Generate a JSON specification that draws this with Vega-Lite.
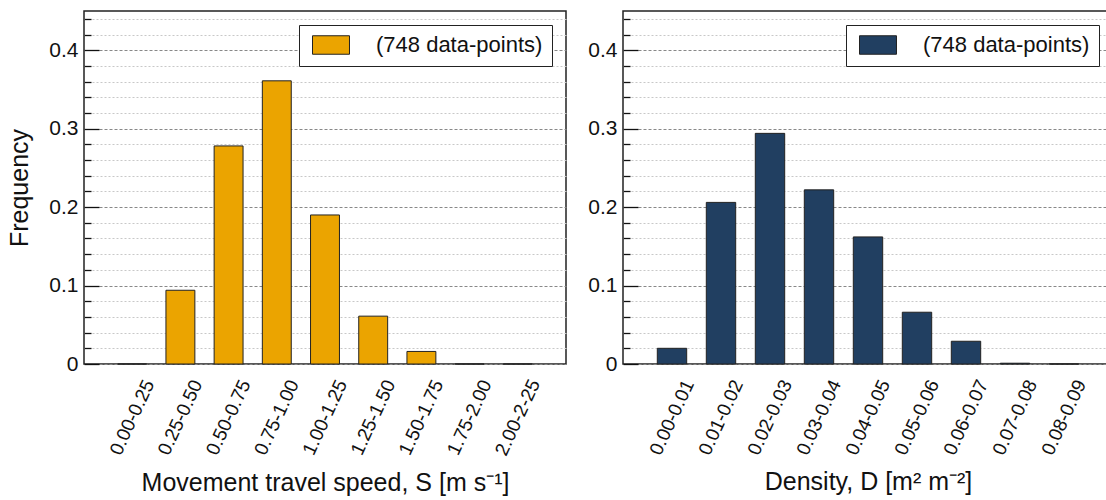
{
  "$schema": "https://vega.github.io/schema/vega-lite/v6.json",
  "padding": {"left": 7, "top": 10, "right": 0, "bottom": 0},
  "spacing": 20,
  "config": {
    "font": "Liberation Sans",
    "view": {"stroke": "#222", "strokeWidth": 1.5},
    "axis": {"labelColor": "#111", "titleColor": "#111", "titleFontWeight": "normal", "labelFont": "Liberation Sans", "titleFont": "Liberation Sans"},
    "legend": {
      "fillColor": "white", "strokeColor": "#222", "padding": 9, "offset": 14,
      "labelFontSize": 22, "labelColor": "#111", "labelFont": "Liberation Sans", "labelLimit": 400,
      "symbolType": "M-2,-1H2V1H-2Z", "symbolSize": 342, "symbolOffset": 12,
      "symbolStrokeColor": "#222", "symbolStrokeWidth": 1, "symbolOpacity": 1, "labelOffset": 34
    }
  },
  "resolve": {"scale": {"color": "independent"}, "legend": {"color": "independent"}},
  "hconcat": [
    {
      "width": 482, "height": 353,
      "data": {"values": [
        {"bin": "0.00-0.25", "freq": 0, "series": "(748 data-points)"},
        {"bin": "0.25-0.50", "freq": 0.094, "series": "(748 data-points)"},
        {"bin": "0.50-0.75", "freq": 0.278, "series": "(748 data-points)"},
        {"bin": "0.75-1.00", "freq": 0.361, "series": "(748 data-points)"},
        {"bin": "1.00-1.25", "freq": 0.190, "series": "(748 data-points)"},
        {"bin": "1.25-1.50", "freq": 0.061, "series": "(748 data-points)"},
        {"bin": "1.50-1.75", "freq": 0.016, "series": "(748 data-points)"},
        {"bin": "1.75-2.00", "freq": 0, "series": "(748 data-points)"},
        {"bin": "2.00-2-25", "freq": 0, "series": "(748 data-points)"}
      ]},
      "resolve": {"axis": {"y": "independent"}},
      "layer": [
        {
          "mark": {"type": "bar", "opacity": 0},
          "encoding": {
            "x": {"field": "bin", "type": "nominal", "sort": null, "scale": {"paddingInner": 0.4, "paddingOuter": 0.7},
                  "axis": {"labelAngle": -65, "labelAlign": "center", "labelBaseline": "middle", "labelPadding": 53, "labelFontSize": 19, "labelOverlap": false, "ticks": false, "domain": false, "grid": false, "title": "Movement travel speed, S [m s⁻¹]", "titleFontSize": 25, "titlePadding": 12}},
            "y": {"field": "freq", "type": "quantitative", "scale": {"domain": [0, 0.45], "nice": false},
                  "axis": {"orient": "left", "offset": -7, "values": [0.02,0.04,0.06,0.08,0.12,0.14,0.16,0.18,0.22,0.24,0.26,0.28,0.32,0.34,0.36,0.38,0.42,0.44], "labels": false, "domain": false, "ticks": true, "tickSize": 7, "tickWidth": 1.3, "tickColor": "#111", "grid": true, "gridColor": "#c8c8c8", "gridDash": [2, 2], "title": null}}
          }
        },
        {
          "mark": {"type": "bar", "stroke": "#222", "strokeWidth": 1},
          "encoding": {
            "x": {"field": "bin", "type": "nominal", "sort": null, "scale": {"paddingInner": 0.4, "paddingOuter": 0.7},
                  "axis": {"labelAngle": -65, "labelAlign": "center", "labelBaseline": "middle", "labelPadding": 53, "labelFontSize": 19, "labelOverlap": false, "ticks": false, "domain": false, "grid": false, "title": "Movement travel speed, S [m s⁻¹]", "titleFontSize": 25, "titlePadding": 12}},
            "y": {"field": "freq", "type": "quantitative", "scale": {"domain": [0, 0.45], "nice": false},
                  "axis": {"orient": "left", "offset": -15, "values": [0, 0.1, 0.2, 0.3, 0.4], "format": ".1~f", "labelFontSize": 21, "labelPadding": 6, "domain": false, "ticks": true, "tickSize": 15, "tickWidth": 1.3, "tickColor": "#111", "grid": true, "gridColor": "#888888", "gridDash": [3, 2], "title": "Frequency", "titleFontSize": 25, "titlePadding": 16}},
            "color": {"field": "series", "type": "nominal", "scale": {"range": ["#EBA400"]}, "legend": {"title": null, "orient": "top-right"}}
          }
        }
      ]
    },
    {
      "width": 490, "height": 353,
      "data": {"values": [
        {"bin": "0.00-0.01", "freq": 0.020, "series": "(748 data-points)"},
        {"bin": "0.01-0.02", "freq": 0.206, "series": "(748 data-points)"},
        {"bin": "0.02-0.03", "freq": 0.294, "series": "(748 data-points)"},
        {"bin": "0.03-0.04", "freq": 0.222, "series": "(748 data-points)"},
        {"bin": "0.04-0.05", "freq": 0.162, "series": "(748 data-points)"},
        {"bin": "0.05-0.06", "freq": 0.066, "series": "(748 data-points)"},
        {"bin": "0.06-0.07", "freq": 0.029, "series": "(748 data-points)"},
        {"bin": "0.07-0.08", "freq": 0.001, "series": "(748 data-points)"},
        {"bin": "0.08-0.09", "freq": 0, "series": "(748 data-points)"}
      ]},
      "resolve": {"axis": {"y": "independent"}},
      "layer": [
        {
          "mark": {"type": "bar", "opacity": 0},
          "encoding": {
            "x": {"field": "bin", "type": "nominal", "sort": null, "scale": {"paddingInner": 0.4, "paddingOuter": 0.7},
                  "axis": {"labelAngle": -65, "labelAlign": "center", "labelBaseline": "middle", "labelPadding": 53, "labelFontSize": 19, "labelOverlap": false, "ticks": false, "domain": false, "grid": false, "title": "Density, D [m² m⁻²]", "titleFontSize": 25, "titlePadding": 12}},
            "y": {"field": "freq", "type": "quantitative", "scale": {"domain": [0, 0.45], "nice": false},
                  "axis": {"orient": "left", "offset": -7, "values": [0.02,0.04,0.06,0.08,0.12,0.14,0.16,0.18,0.22,0.24,0.26,0.28,0.32,0.34,0.36,0.38,0.42,0.44], "labels": false, "domain": false, "ticks": true, "tickSize": 7, "tickWidth": 1.3, "tickColor": "#111", "grid": true, "gridColor": "#c8c8c8", "gridDash": [2, 2], "title": null}}
          }
        },
        {
          "mark": {"type": "bar", "stroke": "#222", "strokeWidth": 1},
          "encoding": {
            "x": {"field": "bin", "type": "nominal", "sort": null, "scale": {"paddingInner": 0.4, "paddingOuter": 0.7},
                  "axis": {"labelAngle": -65, "labelAlign": "center", "labelBaseline": "middle", "labelPadding": 53, "labelFontSize": 19, "labelOverlap": false, "ticks": false, "domain": false, "grid": false, "title": "Density, D [m² m⁻²]", "titleFontSize": 25, "titlePadding": 12}},
            "y": {"field": "freq", "type": "quantitative", "scale": {"domain": [0, 0.45], "nice": false},
                  "axis": {"orient": "left", "offset": -15, "values": [0, 0.1, 0.2, 0.3, 0.4], "format": ".1~f", "labelFontSize": 21, "labelPadding": 6, "domain": false, "ticks": true, "tickSize": 15, "tickWidth": 1.3, "tickColor": "#111", "grid": true, "gridColor": "#888888", "gridDash": [3, 2], "title": null}},
            "color": {"field": "series", "type": "nominal", "scale": {"range": ["#213F61"]}, "legend": {"title": null, "orient": "top-right"}}
          }
        }
      ]
    }
  ]
}
